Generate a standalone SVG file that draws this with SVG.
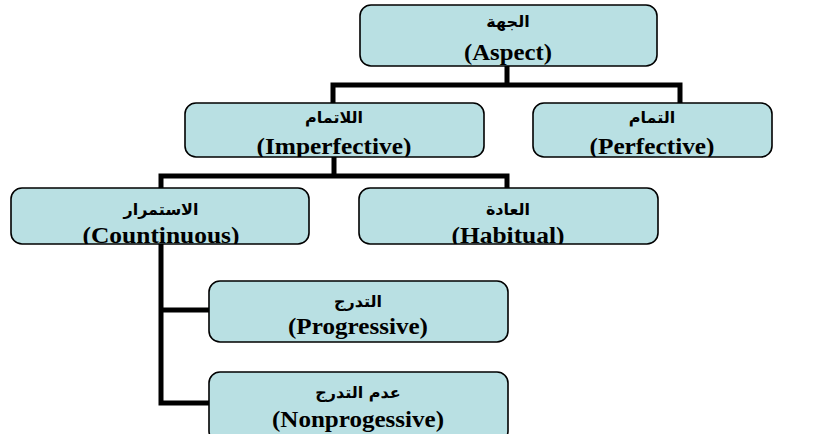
<svg xmlns="http://www.w3.org/2000/svg" width="820" height="434" viewBox="0 0 820 434">
<style>
.box{fill:#b9e0e3;stroke:#000;stroke-width:1.6}
.ar{font-family:"DejaVu Sans",sans-serif;font-weight:bold;font-size:16px;text-anchor:middle}
.en{font-family:"Liberation Serif",serif;font-weight:bold;font-size:23px;text-anchor:middle}
.c{fill:none;stroke:#000;stroke-width:5;stroke-linejoin:miter}
</style>
<defs>
<clipPath id="k1"><rect x="360" y="5" width="297" height="61" rx="11"/></clipPath>
<clipPath id="k2"><rect x="185" y="103" width="299" height="54" rx="11"/></clipPath>
<clipPath id="k3"><rect x="533" y="103" width="239" height="54" rx="11"/></clipPath>
<clipPath id="k4"><rect x="11" y="188" width="298" height="56" rx="11"/></clipPath>
<clipPath id="k5"><rect x="359" y="188" width="299" height="56" rx="11"/></clipPath>
<clipPath id="k6"><rect x="209" y="281" width="299" height="61" rx="11"/></clipPath>
<clipPath id="k7"><rect x="209" y="372" width="299" height="70" rx="11"/></clipPath>
</defs>
<rect width="820" height="434" fill="#fff"/>
<g id="connectors">
<path class="c" d="M507 66 V85 M333 103 V85 H680 V103"/>
<path class="c" d="M334 157 V176 M161 188 V176 H507 V188"/>
<path class="c" d="M161 244 V403 H210 M161 310 H210"/>
</g>
<g id="aspect">
<rect class="box" x="360" y="5" width="297" height="61" rx="11"/>
<g clip-path="url(#k1)">
<text class="ar" x="508" y="27">الجهة</text>
<text class="en" x="508" y="60" textLength="88" lengthAdjust="spacingAndGlyphs">(Aspect)</text>
</g>
</g>
<g id="imperfective">
<rect class="box" x="185" y="103" width="299" height="54" rx="11"/>
<g clip-path="url(#k2)">
<text class="ar" x="334" y="123">اللاتمام</text>
<text class="en" x="334" y="154" textLength="155" lengthAdjust="spacingAndGlyphs">(Imperfective)</text>
</g>
</g>
<g id="perfective">
<rect class="box" x="533" y="103" width="239" height="54" rx="11"/>
<g clip-path="url(#k3)">
<text class="ar" x="652" y="123">التمام</text>
<text class="en" x="652" y="154" textLength="125" lengthAdjust="spacingAndGlyphs">(Perfective)</text>
</g>
</g>
<g id="continuous">
<rect class="box" x="11" y="188" width="298" height="56" rx="11"/>
<g clip-path="url(#k4)">
<text class="ar" x="161" y="215">الاستمرار</text>
<text class="en" x="161" y="243" textLength="157" lengthAdjust="spacingAndGlyphs">(Countinuous)</text>
</g>
</g>
<g id="habitual">
<rect class="box" x="359" y="188" width="299" height="56" rx="11"/>
<g clip-path="url(#k5)">
<text class="ar" x="508" y="215">العادة</text>
<text class="en" x="508" y="243" textLength="113" lengthAdjust="spacingAndGlyphs">(Habitual)</text>
</g>
</g>
<g id="progressive">
<rect class="box" x="209" y="281" width="299" height="61" rx="11"/>
<g clip-path="url(#k6)">
<text class="ar" x="358" y="307">التدرج</text>
<text class="en" x="358" y="334" textLength="140" lengthAdjust="spacingAndGlyphs">(Progressive)</text>
</g>
</g>
<g id="nonprogressive">
<rect class="box" x="209" y="372" width="299" height="70" rx="11"/>
<g clip-path="url(#k7)">
<text class="ar" x="358" y="398">عدم التدرج</text>
<text class="en" x="358" y="427" textLength="172" lengthAdjust="spacingAndGlyphs">(Nonprogessive)</text>
</g>
</g>
</svg>
